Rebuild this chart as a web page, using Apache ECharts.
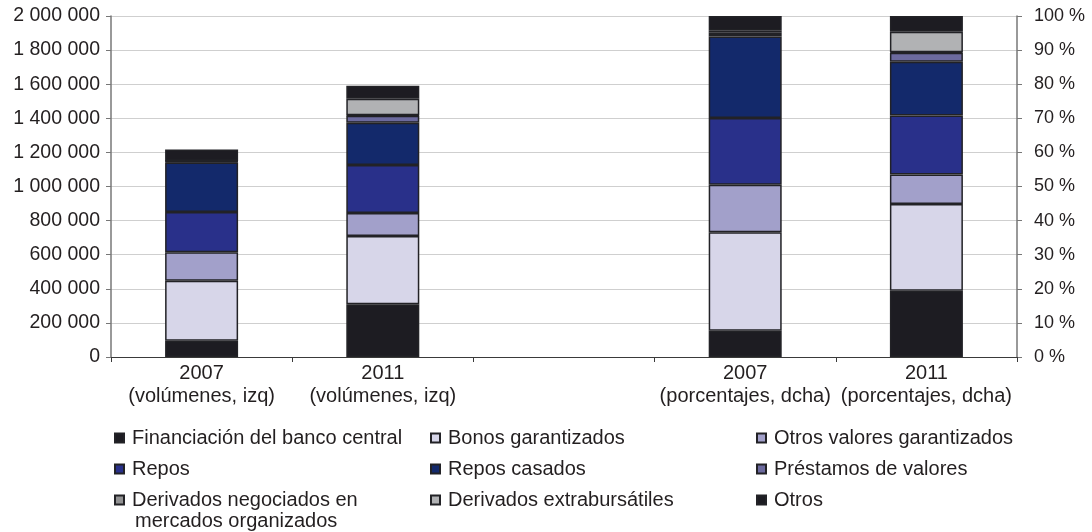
<!DOCTYPE html>
<html>
<head>
<meta charset="utf-8">
<script src="https://cdn.jsdelivr.net/npm/echarts@6/dist/echarts.min.js"></script>
<style>
  html, body { margin: 0; padding: 0; background: #ffffff; }
  #chart { width: 1092px; height: 532px; }
</style>
</head>
<body>
<div id="chart"></div>
<script>
// Category slots: two volume bars, an empty spacer, two percentage bars
const categories = [
  '2007\n(volúmenes, izq)',
  '2011\n(volúmenes, izq)',
  '',
  '2007\n(porcentajes, dcha)',
  '2011\n(porcentajes, dcha)'
];

const seriesNames = [
  'Financiación del banco central',
  'Bonos garantizados',
  'Otros valores garantizados',
  'Repos',
  'Repos casados',
  'Préstamos de valores',
  'Derivados negociados en mercados organizados',
  'Derivados extrabursátiles',
  'Otros'
];

const seriesColors = [
  '#1d1c22', '#d7d6e9', '#a2a0ca', '#29308a', '#13296b',
  '#6c6a9e', '#929293', '#b1b2b4', '#1d1c22'
];

// Volumes (left axis), order follows seriesNames
const volume2007 = [95000, 352000, 167000, 236000, 291000, 4000, 3000, 2000, 67000];
const volume2011 = [309000, 400000, 135000, 282000, 248000, 41000, 3000, 97000, 76000];

// Shares in % (right axis), order follows seriesNames
const share2007 = [7.7, 28.9, 13.9, 19.6, 23.9, 0.7, 0.5, 0.5, 4.3];
const share2011 = [19.4, 25.5, 8.6, 17.3, 15.8, 2.6, 0.2, 6.0, 4.6];

const leftTicks = { min: 0, max: 2000000, interval: 200000 };
const rightTicks = { min: 0, max: 100, interval: 10 };

// Legend columns
const legendCol1 = [seriesNames[0], seriesNames[3], seriesNames[6]];
const legendCol2 = [seriesNames[1], seriesNames[4], seriesNames[7]];
const legendCol3 = [seriesNames[2], seriesNames[5], seriesNames[8]];

const FONT = 'Liberation Sans, Arial, Helvetica, sans-serif';
const TEXT = '#231f20';

// Thousands separated by a space
function spaced(n) {
  return String(n).replace(/\B(?=(\d{3})+(?!\d))/g, ' ');
}

const series = [];
seriesNames.forEach((name, i) => {
  const style = { color: seriesColors[i], borderColor: '#222226', borderWidth: 1.5 };
  series.push({
    name, type: 'bar', stack: 'vol', yAxisIndex: 0,
    barWidth: 73, barGap: '-100%',
    itemStyle: style,
    data: [volume2007[i], volume2011[i], '-', '-', '-']
  });
  series.push({
    name, type: 'bar', stack: 'pct', yAxisIndex: 1,
    barWidth: 73, barGap: '-100%',
    itemStyle: style,
    data: ['-', '-', '-', share2007[i], share2011[i]]
  });
});

const legendBase = {
  orient: 'vertical',
  icon: 'rect',
  itemWidth: 9,
  itemHeight: 9,
  itemGap: 11,
  padding: 0,
  selectedMode: false,
  textStyle: { fontFamily: FONT, fontSize: 20, color: TEXT, lineHeight: 20, padding: [0, 0, 0, 3] }
};

const chart = echarts.init(document.getElementById('chart'), null, { renderer: 'canvas' });
chart.setOption({
  animation: false,
  backgroundColor: '#ffffff',
  grid: { left: 111, right: 75, top: 16, bottom: 175, containLabel: false },
  xAxis: {
    type: 'category',
    data: categories,
    axisLine: { lineStyle: { color: '#3a3a3a', width: 1.2 } },
    axisTick: { show: true, length: 5, lineStyle: { color: '#3a3a3a' } },
    axisLabel: { interval: 0, fontFamily: FONT, fontSize: 20, color: TEXT, lineHeight: 23, margin: 5 }
  },
  yAxis: [
    {
      type: 'value', position: 'left',
      min: leftTicks.min, max: leftTicks.max, interval: leftTicks.interval,
      axisLine: { show: true, lineStyle: { color: '#777777', width: 1.5 } },
      axisTick: { show: true, length: 5, lineStyle: { color: '#777777' } },
      splitLine: { show: true, lineStyle: { color: '#cfcfcf', width: 1 } },
      axisLabel: { fontFamily: FONT, fontSize: 19.5, color: TEXT, margin: 11, formatter: v => spaced(v) }
    },
    {
      type: 'value', position: 'right',
      min: rightTicks.min, max: rightTicks.max, interval: rightTicks.interval,
      axisLine: { show: true, lineStyle: { color: '#777777', width: 1.5 } },
      axisTick: { show: true, length: 5, lineStyle: { color: '#777777' } },
      splitLine: { show: false },
      axisLabel: { fontFamily: FONT, fontSize: 18, color: TEXT, margin: 17, formatter: v => v + ' %' }
    }
  ],
  legend: [
    Object.assign({}, legendBase, {
      left: 114, top: 428, data: legendCol1,
      formatter: n => n === seriesNames[6] ? 'Derivados negociados en' : n
    }),
    Object.assign({}, legendBase, { left: 430, top: 428, data: legendCol2 }),
    Object.assign({}, legendBase, { left: 756, top: 428, data: legendCol3 })
  ],
  graphic: [{
    type: 'text', left: 135, top: 511,
    style: { text: 'mercados organizados', font: '20px ' + FONT, fill: TEXT }
  }],
  series
});
</script>
</body>
</html>
